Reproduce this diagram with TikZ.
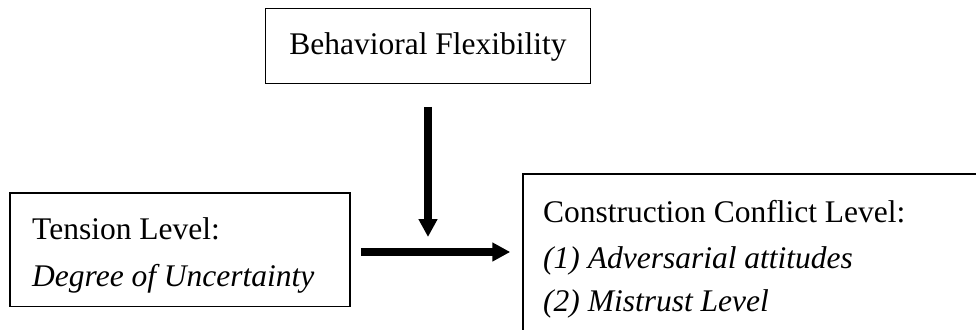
\documentclass[tikz,border=0pt]{standalone}
\usepackage{fontspec}
\setmainfont{Liberation Serif}
\usetikzlibrary{arrows.meta}
\begin{document}
\begin{tikzpicture}[x=1pt,y=-1pt,
  box/.style={draw=black, line width=1.5pt, inner sep=0pt},
  txt/.style={anchor=base west, inner sep=0pt, font=\fontsize{31.5}{46}\selectfont},
  arr/.style={line width=7.5pt, -{Triangle[width=18pt,length=18pt]}}]
\useasboundingbox (0,0) rectangle (976,329);
\clip (0,0) rectangle (976,329);
% boxes
\node[box, minimum width=325pt, minimum height=75pt] (flex) at (428,46) {};
\node[box, minimum width=340pt, minimum height=113.5pt] (tension) at (180,249.75) {};
\node[box, minimum width=470pt, minimum height=175pt] (conflict) at (758,261.5) {};
% texts
\node[anchor=base, inner sep=0pt, font=\fontsize{31.5}{46}\selectfont] (flext) at (428,55) {Behavioral Flexibility};
\node[txt] (t1) at (32,239.3) {Tension Level:};
\node[txt] (t2) at (32,286) {\itshape Degree of Uncertainty};
\node[txt] (c1) at (543,222.7) {Construction Conflict Level:};
\node[txt] (c2) at (543,268.3) {\itshape (1) Adversarial attitudes};
\node[txt] (c3) at (543,311.7) {\itshape (2) Mistrust Level};
% arrows
\coordinate (hy) at (0,252);
\draw[arr, shorten <=10pt, shorten >=12pt] (tension.east |- hy) -- (conflict.west |- hy);
\draw[arr, shorten <=22.5pt, shorten >=15pt] (flex.south) -- (flex.south |- hy);
\end{tikzpicture}
\end{document}
